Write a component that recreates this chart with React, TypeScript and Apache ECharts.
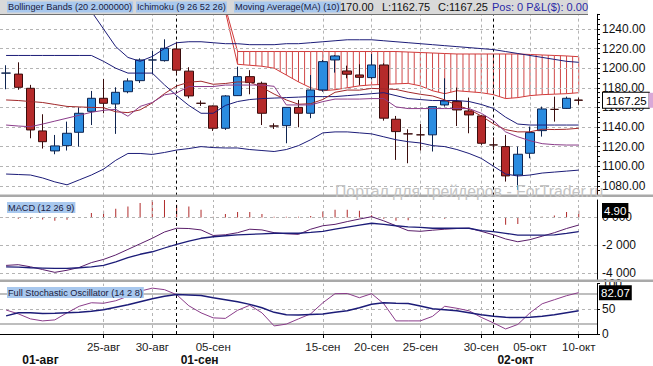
import React, { useEffect, useRef } from 'react';
import * as echarts from 'echarts';

const dates = ['16-авг','17-авг','18-авг','19-авг','21-авг','22-авг','23-авг','24-авг','25-авг','26-авг','28-авг','29-авг','30-авг','31-авг','01-сен','02-сен','04-сен','05-сен','06-сен','07-сен','08-сен','09-сен','11-сен','12-сен','13-сен','14-сен','15-сен','16-сен','18-сен','19-сен','20-сен','21-сен','22-сен','23-сен','25-сен','26-сен','27-сен','28-сен','29-сен','30-сен','02-окт','03-окт','04-окт','05-окт','06-окт','07-окт','09-окт','10-окт'];

const opens = [1195,1194,1179.5,1136,1115.6,1121,1134.6,1156,1169.3,1163.5,1176,1187.3,1208.4,1207.7,1219.6,1197,1164.2,1161.5,1138.7,1172,1191.4,1184.6,1141,1141.4,1160,1154,1177.8,1208.4,1197.2,1193.1,1190.4,1203.3,1147.9,1133,1132,1132,1162.5,1165.9,1156.4,1151.3,1121.7,1120,1091,1113.2,1136.3,1158,1159,1167.5];
const closes = [1195,1180.5,1137,1125,1120.7,1133.6,1154,1169.3,1164.2,1175.4,1187,1208.4,1208.4,1220.3,1198,1171.7,1164.2,1138.7,1171.7,1191.4,1185.3,1154,1141,1160,1154,1177.8,1206.7,1212.5,1193.8,1190.7,1203.3,1149,1135.3,1133,1132,1160.8,1166.6,1157.4,1152.3,1123.4,1121.7,1090.1,1112.2,1134.3,1158.4,1158,1169.3,1167.25];
const lows = [1178.5,1178,1128.5,1118,1112.2,1116,1120,1142,1154,1133,1174.4,1185,1193.8,1206.7,1193.8,1169.3,1161.5,1136,1137,1171.7,1173.4,1142,1138,1123.4,1139.7,1149,1176,1195.5,1189.7,1183,1188.7,1146.5,1106.4,1103,1116,1115,1160.8,1141,1133.6,1121.7,1116.6,1084.3,1075.8,1108.1,1130.2,1145.5,1158.4,1162.75];
const highs = [1203,1206,1183,1153,1131.9,1145.5,1160,1176.8,1189,1180.5,1189.7,1210,1217.6,1229.5,1227,1201,1167,1162,1172.5,1201.6,1198,1186.3,1143.8,1160.2,1167.6,1193,1208.4,1213.5,1202.6,1204,1214.5,1205,1151.3,1137.7,1143,1161,1189.7,1180.2,1170,1152.3,1129.5,1131.9,1120,1140.4,1160.8,1171,1171,1170];

const bbUpper = [1330,1318,1306,1295,1284,1274,1266,1258,1240,1222,1211,1207,1212,1220,1226,1227,1227,1226,1225,1225,1224,1224,1224,1225,1225,1226,1227,1228,1229,1229,1229,1228,1227,1226,1225,1224,1223,1222,1221,1220,1219,1217,1215,1213,1211,1209,1207,1206];
const bbLower = [1092,1091.5,1091,1088,1084,1081,1086,1091,1097,1106,1113,1113,1112,1114,1116.5,1118,1120,1119,1118.6,1118.6,1117,1116,1115,1117,1121,1127,1134,1135,1135,1134,1133,1130,1127,1125,1123.7,1121,1120,1117,1113,1108,1100,1092,1090,1091,1093,1094,1095,1096];
const kijun = [1213,1213,1213,1213,1213,1213,1213,1213,1207,1200,1195,1195,1195,1183,1172,1162,1154,1154,1162,1166,1168,1169,1169.5,1170,1170.5,1171,1171,1171,1172,1173,1174,1175,1172,1169,1168,1167,1167,1167,1166,1163,1159,1150,1143,1142,1142,1142,1142,1142];
const ma10 = [1167.6,1167,1166,1165,1163,1161,1160.5,1160,1159.7,1155.5,1154.7,1157.5,1164.6,1174.1,1181.9,1185.7,1186.7,1183.6,1184.4,1186,1185.8,1180.4,1173.6,1167.6,1163.2,1163.8,1168.1,1175.4,1177.7,1177.6,1179.4,1178.9,1178.3,1175.6,1173.4,1171.7,1167.7,1162.2,1158,1151.3,1143.2,1137.3,1135,1135.1,1137.7,1137.4,1137.7,1138.7];
const tenkan = [1142,1141,1140.3,1143,1146,1149,1152,1155,1157,1158,1151,1161,1165,1172.8,1174.8,1181.3,1181.3,1181.3,1182.8,1182.8,1182.8,1182.8,1181.5,1162.5,1162.5,1162.5,1165.9,1168.5,1168.5,1168.5,1169,1169,1160.5,1158.8,1158.8,1158.8,1158.8,1158.8,1158.8,1154,1146.4,1135,1130,1126,1123,1122,1121.6,1121.6];
const senkouA = [null,null,null,null,null,null,null,null,null,null,null,null,null,null,null,null,null,null,1258,1204,1203,1202,1200,1193,1186,1180,1177,1178,1180,1182,1183,1183.5,1184,1184.5,1182,1177,1174,1177,1176,1175,1173,1169,1170,1172,1173,1173.5,1174,1175];
const senkouB = [null,null,null,null,null,null,null,null,null,null,null,null,null,null,null,null,null,null,1262,1217,1217,1217,1217,1217,1217,1217,1217,1217,1217,1217,1217,1217,1217,1216.5,1216,1215.5,1215,1214.5,1214.5,1214.5,1214.5,1214.5,1214.5,1214,1213.5,1213,1212.5,1211.7];

const macdLine = [-3.45,-3.40,-3.55,-3.75,-3.95,-3.80,-3.60,-3.25,-3.02,-2.70,-2.30,-1.90,-1.50,-1.05,-0.78,-0.80,-0.90,-1.30,-1.25,-1.10,-0.85,-0.90,-1.10,-1.18,-1.22,-0.85,-0.60,-0.50,-0.30,-0.12,0.05,-0.25,-0.60,-0.95,-1.00,-0.92,-0.85,-0.80,-0.78,-1.00,-1.25,-1.55,-1.75,-1.60,-1.35,-1.10,-0.80,-0.55];
const signalLine = [-3.55,-3.58,-3.62,-3.64,-3.66,-3.66,-3.62,-3.55,-3.45,-3.20,-2.90,-2.65,-2.47,-2.20,-1.94,-1.70,-1.50,-1.39,-1.32,-1.26,-1.22,-1.18,-1.14,-1.14,-1.14,-1.08,-1.00,-0.85,-0.70,-0.55,-0.42,-0.50,-0.60,-0.68,-0.72,-0.78,-0.78,-0.78,-0.78,-0.95,-1.03,-1.15,-1.27,-1.27,-1.27,-1.25,-1.15,-1.03];
const macdHist = [-0.05,-0.10,-0.10,-0.15,-0.24,-0.17,0.00,0.31,0.48,0.62,0.79,1.03,1.34,1.27,0.90,0.79,0.55,0.05,0.24,0.38,0.38,0.24,0.05,0.05,0.05,0.10,0.43,0.55,0.55,0.48,0.16,-0.10,-0.25,-0.20,-0.10,0.05,-0.10,0.03,0.03,-0.10,-0.20,-0.53,-0.48,0.05,0.05,0.14,0.38,0.48];
const macdValueText = '4.90';

const stochK = [47.6,40,30,26,28,42,55,62,61,66,75,85,91,88,78,56,42,32,31,47,57,42,16,19.6,30,40,62,80,80.4,72,80,60,26,26,26,35,55,51,46,33,22,10,19,42,60,68,76,82.07];
const stochD = [36,42,42,40.5,41,42,43,45,48,53,58,64,70,75,78.4,77.5,76.5,72,68,64,58.8,52,43,38,37.5,38.5,39.5,43,46,52,59,62,61,60.5,55.5,50,48,46,42,38,35,33,32.7,33,35,38,42,46];

const priceTicks = [1080,1100,1120,1140,1160,1180,1200,1220,1240];
const macdTicks = [0,-2,-4];
const macdTickText = ['0 000','-2 000','-4 000'];
const weekLabels = ['25-авг','30-авг','05-сен','15-сен','20-сен','25-сен','30-сен','05-окт','10-окт'];
const monthLabels = ['01-авг','01-сен','02-окт'];
const monthLabelAt = ['17-авг','01-сен','02-окт'];
const monthSeparators = ['01-сен','02-окт'];

const headerItems = ['Bollinger Bands (20 2.000000)','Ichimoku (9 26 52 26)','Moving Average(MA) (10)'];
const ohlcText = ['170.00','L:1162.75','C:1167.25'];
const posText = 'Pos: 0 P&L($): 0.00';

const FONT = 'Arial, "Liberation Sans", sans-serif';
const NAVY = '#1c1c78';
const CLEAR = 'rgba(0,0,0,0)';
const categories = [...dates, ''];
const last = dates.length - 1;

const gridDash = { color: '#b4b4b4', type: [3, 3], width: 1 };
const monthDash = { color: '#000', type: [3, 3], width: 1 };
const vLines = [
  ...weekLabels.map((d) => ({ xAxis: d, lineStyle: gridDash })),
  ...monthSeparators.map((d) => ({ xAxis: d, lineStyle: monthDash })),
];
const mk = (extra: any[]) => ({
  silent: true,
  symbol: ['none', 'none'],
  label: { show: false },
  data: [...vLines, ...extra],
});

const line = (data: any[], color: string, width = 1, axis = 0, z = 4) => ({
  type: 'line',
  xAxisIndex: axis,
  yAxisIndex: axis,
  data,
  showSymbol: false,
  symbol: 'none',
  connectNulls: false,
  lineStyle: { color, width },
  itemStyle: { color },
  z,
  silent: true,
});

const hatchData = dates
  .map((_, i) => i)
  .filter((i) => i >= 19)
  .map((i) => [
    i,
    senkouA[i],
    senkouB[i],
    i < last ? senkouA[i + 1] : senkouA[i],
    i < last ? senkouB[i + 1] : senkouB[i],
    i < last ? 1 : 0,
  ]);

const weekSet = new Set(weekLabels);
const monthMap = new Map(monthLabelAt.map((d, k) => [d, monthLabels[k]]));

const option: any = {
  animation: false,
  backgroundColor: '#fff',
  textStyle: { fontFamily: FONT },
  grid: [
    { left: 0, right: 56, top: 14.3, height: 181.3 },
    { left: 0, right: 56, top: 200, height: 80 },
    { left: 0, right: 56, top: 283.6, height: 51.7 },
  ],
  xAxis: [0, 1].map((g) => ({
    type: 'category', gridIndex: g, data: categories, boundaryGap: true,
    axisLine: { show: false }, axisTick: { show: false }, axisLabel: { show: false }, splitLine: { show: false },
  })).concat([
    {
      type: 'category', gridIndex: 2, data: categories, boundaryGap: true,
      axisLine: { show: true, lineStyle: { color: '#000', width: 1 } },
      axisTick: { show: true, alignWithLabel: true, length: 4, interval: (i: number, v: string) => weekSet.has(v), lineStyle: { color: '#000' } },
      axisLabel: { interval: (i: number, v: string) => weekSet.has(v), fontSize: 11.5, color: '#222', margin: 7, fontFamily: FONT },
      splitLine: { show: false },
    } as any,
    {
      type: 'category', gridIndex: 2, data: categories, boundaryGap: true, position: 'bottom', offset: 13,
      axisLine: { show: false }, axisTick: { show: false },
      axisLabel: {
        interval: (i: number, v: string) => monthMap.has(v),
        formatter: (v: string) => monthMap.get(v) || '',
        fontSize: 12, fontWeight: 'bold', color: '#111', align: 'left', padding: [0, 0, 0, 4], margin: 7, fontFamily: FONT,
      },
      splitLine: { show: false },
    } as any,
  ]),
  yAxis: [
    {
      type: 'value', gridIndex: 0, position: 'right', min: 1070, max: 1255, interval: 5,
      axisLine: { show: true, lineStyle: { color: '#000' } },
      axisTick: { show: true, length: 3, lineStyle: { color: '#000' } },
      axisLabel: { formatter: (v: number) => (priceTicks.includes(v) ? v.toFixed(2) : ''), fontSize: 12, color: '#111', margin: 5, fontFamily: FONT },
      splitLine: { show: false },
    },
    {
      type: 'value', gridIndex: 1, position: 'right', min: -4.5, max: 1.25, interval: 0.25,
      axisLine: { show: true, lineStyle: { color: '#000' } },
      axisTick: { show: false },
      axisLabel: {
        formatter: (v: number) => { const k = macdTicks.indexOf(v); return k >= 0 ? macdTickText[k] : ''; },
        fontSize: 12, color: '#111', margin: 5, fontFamily: FONT,
      },
      splitLine: { show: false },
    },
    {
      type: 'value', gridIndex: 2, position: 'right', min: 0, max: 100, interval: 50,
      axisLine: { show: true, lineStyle: { color: '#000' } },
      axisTick: { show: true, length: 3, lineStyle: { color: '#000' } },
      axisLabel: { fontSize: 12, color: '#111', margin: 5, fontFamily: FONT },
      splitLine: { show: false },
    },
  ],
  series: [
    {
      type: 'custom', xAxisIndex: 0, yAxisIndex: 0, z: 1, silent: true,
      encode: { x: 0, y: [1, 2] },
      data: hatchData,
      renderItem: (params: any, api: any) => {
        const i = api.value(0);
        const a = api.value(1), b = api.value(2), an = api.value(3), bn = api.value(4), has = api.value(5);
        const p1 = api.coord([i, a]);
        const p2 = api.coord([i, b]);
        const w = api.size([1, 0])[0];
        const st = { stroke: '#d04848', lineWidth: 1 };
        const children: any[] = [{ type: 'line', shape: { x1: p1[0], y1: p1[1], x2: p2[0], y2: p2[1] }, style: st }];
        if (has) {
          const q1 = api.coord([i, (a + an) / 2]);
          const q2 = api.coord([i, (b + bn) / 2]);
          children.push({ type: 'line', shape: { x1: q1[0] + w / 2, y1: q1[1], x2: q2[0] + w / 2, y2: q2[1] }, style: st });
        }
        return { type: 'group', children };
      },
      markLine: mk(priceTicks.map((v) => ({ yAxis: v, lineStyle: gridDash }))),
    },
    line(senkouB, '#d03a3a', 1, 0, 3),
    line(senkouA, '#d03a3a', 1, 0, 3),
    {
      type: 'candlestick', xAxisIndex: 0, yAxisIndex: 0, z: 5, silent: true,
      data: dates.map((_, i) => [opens[i], closes[i], lows[i], highs[i]]),
      barWidth: 9,
      itemStyle: { color: '#2b8ce0', color0: '#b52a2a', borderColor: '#0e2450', borderColor0: '#3a0c0c', borderWidth: 1 },
      markLine: {
        silent: true, symbol: ['none', 'none'],
        data: [{
          yAxis: closes[last],
          lineStyle: { color: CLEAR, width: 1 },
          label: {
            show: true, position: 'end', distance: 6,
            formatter: (p: any) => `{a|${Number(p.value).toFixed(2)}}{b|}`,
            rich: {
              a: { backgroundColor: '#fff', borderColor: '#000', borderWidth: 1, padding: [2, 2, 1, 3], fontSize: 11.5, color: '#000', fontFamily: FONT },
              b: { backgroundColor: '#d8a8d8', width: 10, height: 15 },
            },
          },
        }],
      },
    },
    line(bbUpper, NAVY, 1, 0, 6),
    line(bbLower, NAVY, 1, 0, 6),
    line(kijun, NAVY, 1, 0, 6),
    line(ma10, '#a0282a', 1, 0, 6),
    line(tenkan, '#8a3c8a', 1, 0, 6),
    {
      type: 'bar', xAxisIndex: 1, yAxisIndex: 1, data: macdHist, barWidth: 1, silent: true, z: 3,
      itemStyle: { color: '#b02a2a' },
      markLine: mk(macdTicks.map((v) => ({ yAxis: v, lineStyle: gridDash }))),
    },
    line(macdLine, '#5a1e6a', 1, 1, 5),
    line(signalLine, NAVY, 1.3, 1, 5),
    {
      ...line(stochK, '#8a3c8a', 1, 2, 5),
      markLine: mk([
        { yAxis: 80, lineStyle: { color: '#a8a8a8', type: 'solid', width: 1.5 } },
        { yAxis: 20, lineStyle: { color: '#a8a8a8', type: 'solid', width: 1.5 } },
        { yAxis: 50, lineStyle: gridDash },
        {
          yAxis: stochK[last], lineStyle: { color: CLEAR, width: 1 },
          label: {
            show: true, position: 'end', distance: 2,
            formatter: (p: any) => Number(p.value).toFixed(2),
            backgroundColor: '#000', color: '#fff', padding: [2, 2, 1, 2], fontSize: 11.5, fontFamily: FONT,
          },
        },
      ]),
    },
    line(stochD, NAVY, 1.5, 2, 5),
  ],
  graphic: [
    { type: 'rect', shape: { x: 0, y: 0, width: 588, height: 14 }, style: { fill: '#d9d9d9' }, z: 100 },
    { type: 'line', shape: { x1: 0, y1: 14.5, x2: 588, y2: 14.5 }, style: { stroke: '#707070', lineWidth: 1 }, z: 100 },
    { type: 'text', x: 7, y: 1.5, style: { text: headerItems[0], font: `9.2px ${FONT}`, fill: '#1a1a40', backgroundColor: '#a8c8ee', padding: [1, 1], verticalAlign: 'top' }, z: 101 },
    { type: 'text', x: 136, y: 1.5, style: { text: headerItems[1], font: `9.2px ${FONT}`, fill: '#1a1a40', backgroundColor: '#a8c8ee', padding: [1, 1], verticalAlign: 'top' }, z: 101 },
    { type: 'text', x: 234, y: 1.5, style: { text: headerItems[2], font: `9.2px ${FONT}`, fill: '#1a1a40', backgroundColor: '#a8c8ee', padding: [1, 1], verticalAlign: 'top' }, z: 101 },
    { type: 'text', x: 340, y: 1, style: { text: ohlcText[0], font: `11px ${FONT}`, fill: '#111', verticalAlign: 'top' }, z: 102 },
    { type: 'text', x: 382, y: 1, style: { text: ohlcText[1], font: `11px ${FONT}`, fill: '#111', verticalAlign: 'top' }, z: 102 },
    { type: 'text', x: 438, y: 1, style: { text: ohlcText[2], font: `11px ${FONT}`, fill: '#111', verticalAlign: 'top' }, z: 102 },
    { type: 'text', x: 492, y: 1, style: { text: posText, font: `11px ${FONT}`, fill: '#2a2aa8', verticalAlign: 'top' }, z: 102 },
    { type: 'rect', shape: { x: 0, y: 194.5, width: 653, height: 2.5 }, style: { fill: '#a9a9a9' }, z: 100 },
    { type: 'rect', shape: { x: 0, y: 279.5, width: 653, height: 2.5 }, style: { fill: '#a9a9a9' }, z: 100 },
    { type: 'text', x: 7, y: 202, style: { text: 'MACD (12 26 9)', font: `9.2px ${FONT}`, fill: '#1a1a40', backgroundColor: '#a8c8ee', padding: [1, 1], verticalAlign: 'top' }, z: 101 },
    { type: 'text', x: 7, y: 287, style: { text: 'Full Stochastic Oscillator (14 2 8)', font: `9.2px ${FONT}`, fill: '#1a1a40', backgroundColor: '#a8c8ee', padding: [1, 1], verticalAlign: 'top' }, z: 101 },
    { type: 'text', x: 602, y: 203, style: { text: macdValueText, font: `11.5px ${FONT}`, fill: '#fff', backgroundColor: '#000', padding: [2, 2, 1, 2], verticalAlign: 'top' }, z: 101 },
    { type: 'text', x: 335, y: 183, style: { text: 'Портал для трейдеров - ForTrader.ru', font: `15.8px ${FONT}`, fill: '#c4c4c4', verticalAlign: 'top' }, z: 103 },
  ],
};

export default function App() {
  const ref = useRef<HTMLDivElement>(null);
  useEffect(() => {
    if (!ref.current) return;
    const chart = echarts.init(ref.current, null, { renderer: 'svg' });
    chart.setOption(option);
    return () => chart.dispose();
  }, []);
  return <div ref={ref} style={{ position: 'fixed', left: 0, top: 0, width: 653, height: 366, background: '#fff' }} />;
}
